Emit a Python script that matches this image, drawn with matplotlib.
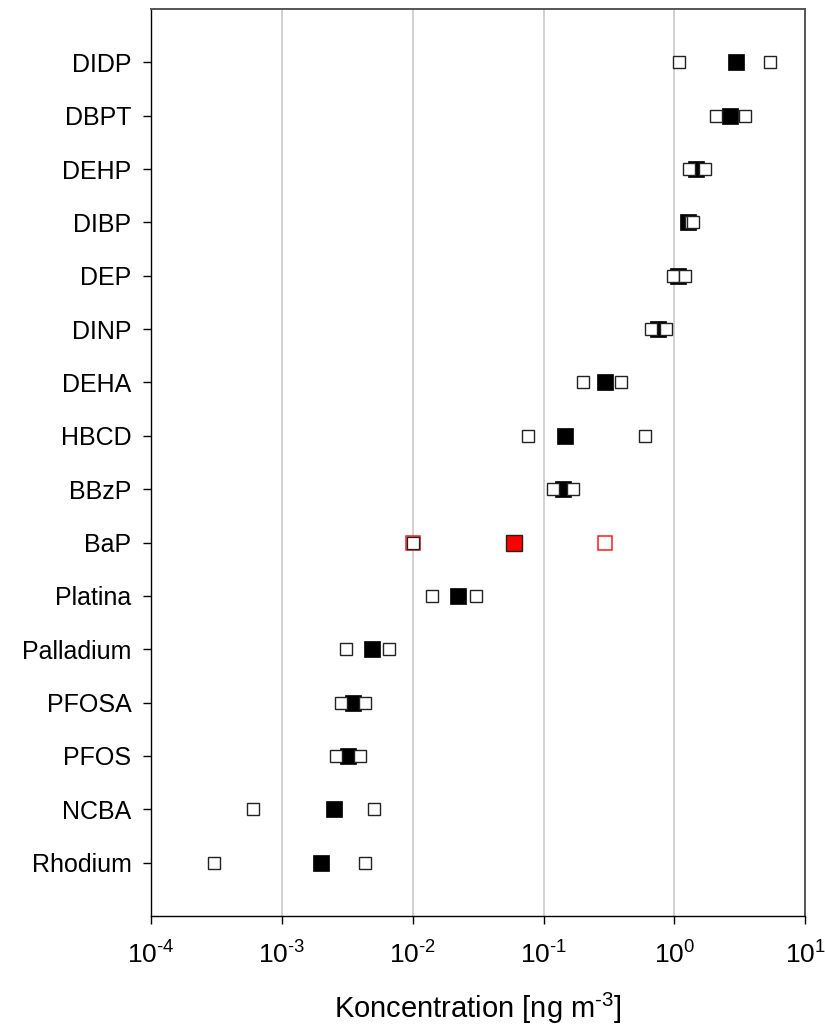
import numpy as np
import matplotlib
matplotlib.use("Agg")
import matplotlib.pyplot as plt
from matplotlib.ticker import FixedLocator, FuncFormatter, NullLocator

plt.rcParams['font.family'] = ['Liberation Sans', 'DejaVu Sans']
plt.rcParams['mathtext.fontset'] = 'custom'
plt.rcParams['mathtext.rm'] = 'Liberation Sans'
plt.rcParams['mathtext.it'] = 'Liberation Sans'
plt.rcParams['mathtext.bf'] = 'Liberation Sans:bold'
plt.rcParams['axes.unicode_minus'] = False

# Ämnen, uppifrån och ned
amnen = ['DIDP', 'DBPT', 'DEHP', 'DIBP', 'DEP', 'DINP', 'DEHA', 'HBCD',
         'BBzP', 'BaP', 'Platina', 'Palladium', 'PFOSA', 'PFOS', 'NCBA', 'Rhodium']

# Medelvärde (fylld) samt min/max (öppna) i ng/m3
medel = [2.97, 2.68, 1.47, 1.27, 1.07, 0.755, 0.297, 0.147,
         0.140, np.nan, 0.0221, 0.00487, 0.00348, 0.00319, 0.00249, 0.00199]
lag = [1.09, 2.09, 1.30, 1.33, 0.98, 0.667, 0.199, 0.0755,
       0.119, 0.010, 0.0140, 0.00308, 0.00282, 0.00258, 0.000601, 0.000303]
hog = [5.4, 3.48, 1.70, 1.40, 1.21, 0.869, 0.394, 0.601,
       0.169, np.nan, 0.0303, 0.00656, 0.0043, 0.00394, 0.00504, 0.0043]

# BaP (röd serie)
bap_medel = 0.060
bap_lag = 0.010
bap_hog = 0.297

dekader = [1e-4, 1e-3, 1e-2, 1e-1, 1e0, 1e1]

n = len(amnen)
ypos = np.arange(n, 0, -1)
y_bap = ypos[amnen.index('BaP')]

HYPHEN = '\u2010'


def dekad_etikett(v, pos):
    exp = int(round(np.log10(v)))
    s = str(exp).replace('-', HYPHEN)
    return '10$^{%s}$' % s


fig = plt.figure(figsize=(8.25, 10.35), dpi=100)
ax = fig.add_axes([0.183, 0.115, 0.793, 0.8763])

ax.set_xscale('log')
ax.set_xlim(dekader[0], dekader[-1])
ax.set_ylim(0, n + 1)

ax.grid(True, axis='x', which='major', color='#c4c4c4', linewidth=1.1, zorder=0)
ax.set_axisbelow(True)

# fyllda medelvärden under de öppna min/max-rutorna
ax.plot(medel, ypos, linestyle='none', marker='s', markersize=12.2,
        markerfacecolor='black', markeredgecolor='black', markeredgewidth=0.5, zorder=3)

ax.plot(bap_medel, y_bap, linestyle='none', marker='s', markersize=11.8,
        markerfacecolor='#ff0000', markeredgecolor='#222222', markeredgewidth=1.0, zorder=3)
ax.plot([bap_lag, bap_hog], [y_bap, y_bap], linestyle='none', marker='s', markersize=9.4,
        markerfacecolor='white', markeredgecolor='#ff1a1a', markeredgewidth=1.1, zorder=4)

ax.plot(lag, ypos, linestyle='none', marker='s', markersize=9.2,
        markerfacecolor='white', markeredgecolor='#222222', markeredgewidth=1.0, zorder=5)
ax.plot(hog, ypos, linestyle='none', marker='s', markersize=9.2,
        markerfacecolor='white', markeredgecolor='#222222', markeredgewidth=1.0, zorder=5)

# BaP-minvärdet ligger även i röd serie, ritas något mindre ovanpå
ax.plot(bap_lag, y_bap, linestyle='none', marker='s', markersize=8.0,
        markerfacecolor='white', markeredgecolor='#222222', markeredgewidth=0.9, zorder=6)

ax.set_yticks(ypos)
ax.set_yticklabels(amnen, fontsize=18)
ax.xaxis.set_major_locator(FixedLocator(dekader))
ax.xaxis.set_minor_locator(NullLocator())
ax.xaxis.set_major_formatter(FuncFormatter(dekad_etikett))
ax.tick_params(axis='x', labelsize=19, length=6, width=1, pad=12, direction='out')
ax.tick_params(axis='y', length=6, width=1, pad=8, direction='out')

ax.set_xlabel('Koncentration [ng m$^{%s3}$]' % HYPHEN, fontsize=21, labelpad=16)

for side in ['left', 'bottom']:
    ax.spines[side].set_color('black')
    ax.spines[side].set_linewidth(1.0)
for side in ['top', 'right']:
    ax.spines[side].set_color('#555555')
    ax.spines[side].set_linewidth(1.4)

fig.savefig('out.png', dpi=100)
